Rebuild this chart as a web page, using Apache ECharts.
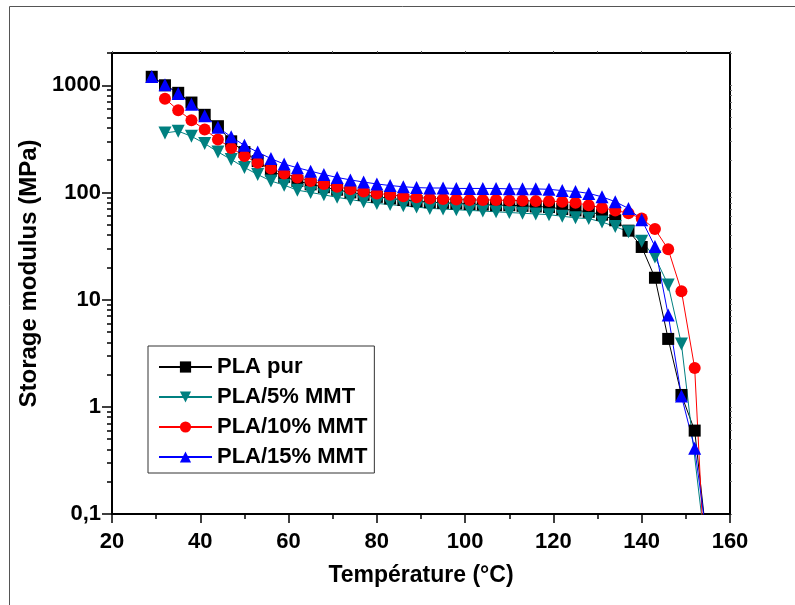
<!DOCTYPE html>
<html>
<head>
<meta charset="utf-8">
<script src="https://cdn.jsdelivr.net/npm/echarts@6/dist/echarts.min.js"></script>
<style>
  html, body { margin: 0; padding: 0; background: #fff; }
  #chart { width: 795px; height: 605px; }
</style>
</head>
<body>
<div id="chart"></div>
<script>
// Temperature of each DMA reading (°C)
const temps = [29, 32, 35, 38, 41, 44, 47, 50, 53, 56, 59, 62, 65, 68, 71, 74, 77, 80, 83, 86, 89,
               92, 95, 98, 101, 104, 107, 110, 113, 116, 119, 122, 125, 128, 131, 134, 137, 140,
               143, 146, 149, 152, 155];

// Storage modulus E' (MPa) for each formulation
const plaPur = [1200, 1000, 850, 690, 530, 415, 300, 238, 196, 160, 140, 128, 119, 112, 106, 100, 95, 91,
                88, 85, 83, 81, 80, 79, 78, 77, 76, 76, 75, 74, 73, 70, 68, 66, 62, 55, 44, 31,
                16, 4.3, 1.29, 0.6, 0.045];
const pla5 = [null, 359, 373, 334, 286, 239, 203, 171, 147, 128, 117, 105, 100, 95, 90, 86, 82, 79,
              77, 75, 73, 71, 70, 69, 68, 67, 66, 65, 64, 63, 62, 60, 58, 57, 53, 48, 43, 35,
              25, 13.7, 3.85, null, 0.03];
const pla10 = [null, 750, 585, 472, 386, 312, 260, 219, 189, 167, 150, 138, 128, 120, 113, 107, 102, 98,
               95, 92, 90, 88, 87, 86, 85, 85, 85, 84, 84, 83, 83, 82, 80, 76, 72, 68, 64, 57,
               45.5, 29.5, 12, 2.3, 0.008];
const pla15 = [1210, 1010, 840, 665, 520, 405, 330, 275, 238, 207, 184, 170, 158, 147, 138, 131, 125, 120,
               116, 113, 111, 110, 110, 109, 109, 109, 109, 108, 108, 108, 107, 104, 102, 98, 91, 82, 71, 55.5,
               31.3, 7.2, 1.26, 0.41, 0.05];

// Axis ticks
const xTicks = [20, 40, 60, 80, 100, 120, 140, 160];
const yMajor = [0.1, 1, 10, 100, 1000];
const yMinor = [0.2, 0.3, 0.4, 0.5, 0.6, 0.7, 0.8, 0.9,
                2, 3, 4, 5, 6, 7, 8, 9,
                20, 30, 40, 50, 60, 70, 80, 90,
                200, 300, 400, 500, 600, 700, 800, 900, 2000];

const pairs = vals => temps.map((t, i) => [t, vals[i]]);

const FONT = '"Liberation Sans", Arial, sans-serif';
const chart = echarts.init(document.getElementById('chart'), null, { renderer: 'canvas' });

const logAxisBase = {
  type: 'log', logBase: 10, min: 0.1, max: 2000, gridIndex: 0,
  splitLine: { show: false }, minorSplitLine: { show: false }
};

chart.setOption({
  animation: false,
  backgroundColor: '#fff',
  graphic: [
    { type: 'line', shape: { x1: 9.5, y1: 6.5, x2: 795, y2: 6.5 }, style: { stroke: '#555', lineWidth: 1 } },
    { type: 'line', shape: { x1: 9.5, y1: 6.5, x2: 9.5, y2: 605 }, style: { stroke: '#555', lineWidth: 1 } }
  ],
  grid: { left: 112, right: 65, top: 53, bottom: 91 },
  legend: {
    orient: 'vertical', left: 148, top: 346,
    padding: [10, 7, 5, 10],
    itemWidth: 53, itemHeight: 14, itemGap: 8,
    borderColor: '#333', borderWidth: 1, backgroundColor: '#fff',
    textStyle: { fontFamily: FONT, fontSize: 22, fontWeight: 'bold', color: '#000', lineHeight: 22 },
    data: ['PLA pur', 'PLA/5% MMT', 'PLA/10% MMT', 'PLA/15% MMT']
  },
  xAxis: [
    {
      type: 'value', min: 20, max: 160, interval: 20, position: 'bottom',
      name: 'Température (°C)', nameLocation: 'middle', nameGap: 50,
      nameTextStyle: { fontFamily: FONT, fontSize: 23, fontWeight: 'bold', color: '#000' },
      axisLine: { lineStyle: { color: '#000', width: 2 } },
      axisTick: { length: 9, lineStyle: { color: '#000', width: 1.5 } },
      minorTick: { show: true, splitNumber: 2, length: 5, lineStyle: { color: '#000', width: 1.5 } },
      axisLabel: { margin: 17, fontFamily: FONT, fontSize: 22, fontWeight: 'bold', color: '#000',
                   customValues: xTicks },
      splitLine: { show: false }
    },
    {
      type: 'value', min: 20, max: 160, interval: 10, position: 'top',
      axisLine: { lineStyle: { color: '#000', width: 2 } },
      axisTick: { length: 2, lineStyle: { color: '#555', width: 1 } },
      axisLabel: { show: false },
      splitLine: { show: false }
    }
  ],
  yAxis: [
    Object.assign({}, logAxisBase, {
      position: 'left',
      name: 'Storage modulus (MPa)', nameLocation: 'middle', nameGap: 58, nameRotate: 90,
      nameTextStyle: { fontFamily: FONT, fontSize: 24, fontWeight: 'bold', color: '#000',
                       padding: [0, 0, 0, 20] },
      axisLine: { lineStyle: { color: '#000', width: 2 } },
      axisTick: { length: 10, customValues: yMajor, lineStyle: { color: '#000', width: 1.5 } },
      axisLabel: { margin: 11, fontFamily: FONT, fontSize: 22, fontWeight: 'bold', color: '#000',
                   customValues: yMajor,
                   formatter: v => String(v).replace('.', ',') }
    }),
    Object.assign({}, logAxisBase, {
      position: 'left', offset: 0,
      axisLine: { show: false },
      axisTick: { length: 5, customValues: yMinor, lineStyle: { color: '#000', width: 1.5 } },
      axisLabel: { show: false }
    }),
    Object.assign({}, logAxisBase, {
      position: 'right',
      axisLine: { lineStyle: { color: '#000', width: 2 } },
      axisTick: { length: 2, customValues: yMajor.concat(yMinor), lineStyle: { color: '#777', width: 1 } },
      axisLabel: { show: false }
    })
  ],
  series: [
    {
      name: 'PLA pur', type: 'line', data: pairs(plaPur), connectNulls: true,
      symbol: 'rect', symbolSize: 12,
      itemStyle: { color: '#000' }, lineStyle: { color: '#000', width: 1 }
    },
    {
      name: 'PLA/5% MMT', type: 'line', data: pairs(pla5), connectNulls: true,
      symbol: 'triangle', symbolRotate: 180, symbolSize: 13,
      itemStyle: { color: '#008080' }, lineStyle: { color: '#008080', width: 1 }
    },
    {
      name: 'PLA/10% MMT', type: 'line', data: pairs(pla10), connectNulls: true,
      symbol: 'circle', symbolSize: 12,
      itemStyle: { color: '#ff0000' }, lineStyle: { color: '#ff0000', width: 1 }
    },
    {
      name: 'PLA/15% MMT', type: 'line', data: pairs(pla15), connectNulls: true,
      symbol: 'triangle', symbolSize: 13,
      itemStyle: { color: '#0000ff' }, lineStyle: { color: '#0000ff', width: 1 }
    }
  ]
});
</script>
</body>
</html>
